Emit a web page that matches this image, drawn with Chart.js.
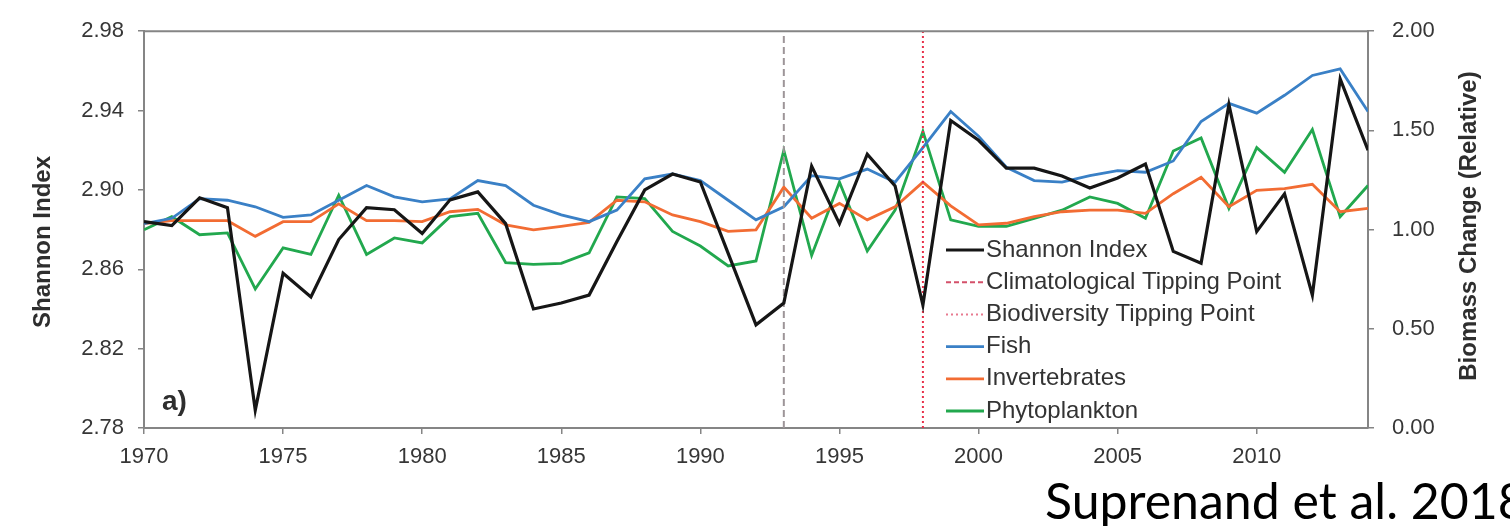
<!DOCTYPE html>
<html>
<head>
<meta charset="utf-8">
<script src="https://cdn.jsdelivr.net/npm/chart.js@4.4.0/dist/chart.umd.min.js"></script>
<style>
  html, body { margin: 0; padding: 0; background: #fff; }
  #wrap { position: relative; width: 1510px; height: 526px; overflow: hidden; }
  #cite {
    position: absolute; left: 1045px; top: 475px;
    font-family: Lato, "Open Sans", "Liberation Sans", sans-serif;
    font-size: 50px; line-height: 50px; color: #000; white-space: nowrap;
  }
</style>
</head>
<body>
<div id="wrap">
  <canvas id="shannonChart"></canvas>
  <div id="cite">Suprenand et al. 2018</div>
</div>
<script>
    // 연도 (x축)
    const years = [1970, 1971, 1972, 1973, 1974, 1975, 1976, 1977, 1978, 1979,
                   1980, 1981, 1982, 1983, 1984, 1985, 1986, 1987, 1988, 1989,
                   1990, 1991, 1992, 1993, 1994, 1995, 1996, 1997, 1998, 1999,
                   2000, 2001, 2002, 2003, 2004, 2005, 2006, 2007, 2008, 2009,
                   2010, 2011, 2012, 2013, 2014];

    // Shannon Index (왼쪽 축)
    const shannon = [2.884, 2.882, 2.896, 2.891, 2.789, 2.858, 2.846, 2.875, 2.891, 2.890,
                     2.878, 2.895, 2.899, 2.883, 2.840, 2.843, 2.847, 2.874, 2.900, 2.908,
                     2.904, 2.868, 2.832, 2.843, 2.912, 2.883, 2.918, 2.902, 2.842, 2.935,
                     2.925, 2.911, 2.911, 2.907, 2.901, 2.906, 2.913, 2.869, 2.863, 2.943,
                     2.879, 2.898, 2.847, 2.956, 2.920];

    // Biomass change (오른쪽 축)
    const fish = [1.030, 1.057, 1.156, 1.148, 1.115, 1.062, 1.074, 1.148, 1.222, 1.165,
                  1.140, 1.155, 1.247, 1.222, 1.123, 1.074, 1.040, 1.098, 1.256, 1.280,
                  1.247, 1.148, 1.049, 1.115, 1.272, 1.256, 1.305, 1.239, 1.413, 1.595,
                  1.471, 1.314, 1.247, 1.239, 1.272, 1.297, 1.289, 1.346, 1.545, 1.636,
                  1.587, 1.677, 1.777, 1.810, 1.595];

    const invertebrates = [1.030, 1.045, 1.045, 1.045, 0.966, 1.040, 1.040, 1.130, 1.045, 1.045,
                           1.040, 1.090, 1.102, 1.024, 0.999, 1.016, 1.036, 1.148, 1.140, 1.074,
                           1.040, 0.991, 0.999, 1.214, 1.057, 1.132, 1.049, 1.115, 1.239, 1.120,
                           1.024, 1.032, 1.065, 1.090, 1.098, 1.098, 1.082, 1.181, 1.264, 1.115,
                           1.198, 1.206, 1.228, 1.090, 1.107];

    const phytoplankton = [0.999, 1.065, 0.974, 0.983, 0.701, 0.908, 0.875, 1.173, 0.875, 0.958,
                           0.933, 1.065, 1.082, 0.834, 0.825, 0.830, 0.883, 1.165, 1.156, 0.991,
                           0.917, 0.817, 0.842, 1.400, 0.870, 1.239, 0.892, 1.098, 1.495, 1.049,
                           1.016, 1.016, 1.057, 1.098, 1.165, 1.132, 1.057, 1.396, 1.462, 1.107,
                           1.413, 1.289, 1.504, 1.065, 1.222];

    // 전환점 (tipping points)
    const climTipYear = 1993;
    const bioTipYear = 1998;

    // 축 눈금
    const leftTicks = [2.78, 2.82, 2.86, 2.90, 2.94, 2.98];
    const rightTicks = [0, 0.5, 1.0, 1.5, 2.0];
    const xTickStep = 5;

    const tickColor = '#363636';
    const axisColor = '#858585';
    const font = "'Liberation Sans', Arial, sans-serif";

    // 범례 + 축 제목 + 상단 테두리를 직접 그림
    const decorPlugin = {
        id: 'decor',
        afterDraw(chart) {
            const ctx = chart.ctx;
            const area = chart.chartArea;
            ctx.save();

            // top border
            ctx.strokeStyle = axisColor;
            ctx.lineWidth = 2;
            ctx.beginPath();
            ctx.moveTo(area.left, area.top);
            ctx.lineTo(area.right, area.top);
            ctx.stroke();

            // axis titles (both read bottom-to-top)
            ctx.fillStyle = '#2e2e2e';
            ctx.font = 'bold 24px ' + font;
            ctx.textAlign = 'center';
            ctx.textBaseline = 'middle';
            ctx.save();
            ctx.translate(43, 242);
            ctx.rotate(-Math.PI / 2);
            ctx.fillText('Shannon Index', 0, 0);
            ctx.restore();
            ctx.save();
            ctx.translate(1469, 226);
            ctx.rotate(-Math.PI / 2);
            ctx.fillText('Biomass Change (Relative)', 0, 0);
            ctx.restore();

            // panel label
            ctx.font = 'bold 28px ' + font;
            ctx.textAlign = 'left';
            ctx.textBaseline = 'alphabetic';
            ctx.fillText('a)', 162, 410);

            // legend
            ctx.font = '24px ' + font;
            ctx.textBaseline = 'middle';
            chart.data.datasets.forEach((ds, i) => {
                const y = 250 + i * 32.2;
                ctx.strokeStyle = ds.legendColor || ds.borderColor;
                ctx.lineWidth = ds.legendWidth || ds.borderWidth;
                ctx.setLineDash(ds.legendDash || ds.borderDash || []);
                ctx.beginPath();
                ctx.moveTo(946, y);
                ctx.lineTo(984, y);
                ctx.stroke();
                ctx.setLineDash([]);
                ctx.fillStyle = '#333';
                ctx.fillText(ds.label, 986, y);
            });
            ctx.restore();
        }
    };

    function createShannonChart() {
        const ctx = document.getElementById('shannonChart').getContext('2d');

        new Chart(ctx, {
            type: 'line',
            data: {
                labels: years,
                datasets: [
                    {
                        label: 'Shannon Index',
                        data: shannon,
                        yAxisID: 'y',
                        borderColor: '#161616',
                        borderWidth: 3.2
                    },
                    {
                        label: 'Climatological Tipping Point',
                        data: [{ x: climTipYear, y: leftTicks[0] }, { x: climTipYear, y: leftTicks[leftTicks.length - 1] }],
                        yAxisID: 'y',
                        borderColor: '#9d9598',
                        borderWidth: 2,
                        borderDash: [7, 4],
                        legendColor: '#d4506a',
                        legendDash: [5, 3]
                    },
                    {
                        label: 'Biodiversity Tipping Point',
                        data: [{ x: bioTipYear, y: leftTicks[0] }, { x: bioTipYear, y: leftTicks[leftTicks.length - 1] }],
                        yAxisID: 'y',
                        borderColor: '#e8304a',
                        borderWidth: 2,
                        borderDash: [2, 3],
                        legendColor: '#e87a90'
                    },
                    {
                        label: 'Fish',
                        data: fish,
                        yAxisID: 'y1',
                        borderColor: '#3a80c6',
                        borderWidth: 2.8
                    },
                    {
                        label: 'Invertebrates',
                        data: invertebrates,
                        yAxisID: 'y1',
                        borderColor: '#f26c33',
                        borderWidth: 2.8
                    },
                    {
                        label: 'Phytoplankton',
                        data: phytoplankton,
                        yAxisID: 'y1',
                        borderColor: '#22a84e',
                        borderWidth: 2.8
                    }
                ]
            },
            options: {
                responsive: true,
                maintainAspectRatio: false,
                animation: false,
                devicePixelRatio: 1,
                layout: { padding: { top: 25, left: 0, right: 0, bottom: 0 } },
                elements: {
                    point: { radius: 0 },
                    line: { tension: 0, fill: false }
                },
                plugins: {
                    legend: { display: false },
                    tooltip: { enabled: false }
                },
                scales: {
                    x: {
                        type: 'linear',
                        position: 'bottom',
                        min: years[0],
                        max: years[years.length - 1],
                        afterBuildTicks: (scale) => {
                            scale.ticks = scale.ticks.filter(t => t.value % xTickStep === 0);
                        },
                        afterFit: (scale) => { scale.height = 98; },
                        ticks: {
                            stepSize: xTickStep,
                            color: tickColor,
                            font: { family: font, size: 22 },
                            padding: 10,
                            maxRotation: 0,
                            autoSkip: false,
                            callback: (v) => String(v)
                        },
                        grid: { drawOnChartArea: false, drawTicks: true, tickLength: 6, color: axisColor, lineWidth: 1.5 },
                        border: { color: axisColor, width: 2 }
                    },
                    y: {
                        type: 'linear',
                        position: 'left',
                        min: leftTicks[0],
                        max: leftTicks[leftTicks.length - 1],
                        afterBuildTicks: (scale) => {
                            scale.ticks = leftTicks.map(v => ({ value: v }));
                        },
                        afterFit: (scale) => { scale.width = 144; },
                        ticks: {
                            color: tickColor,
                            font: { family: font, size: 22 },
                            padding: 14,
                            callback: (v) => Number(v).toFixed(2)
                        },
                        grid: { drawOnChartArea: false, drawTicks: true, tickLength: 6, color: axisColor, lineWidth: 1.5 },
                        border: { color: axisColor, width: 2 }
                    },
                    y1: {
                        type: 'linear',
                        position: 'right',
                        min: rightTicks[0],
                        max: rightTicks[rightTicks.length - 1],
                        afterBuildTicks: (scale) => {
                            scale.ticks = rightTicks.map(v => ({ value: v }));
                        },
                        afterFit: (scale) => { scale.width = 142; },
                        ticks: {
                            color: tickColor,
                            font: { family: font, size: 22 },
                            padding: 18,
                            callback: (v) => Number(v).toFixed(2)
                        },
                        grid: { drawOnChartArea: false, drawTicks: true, tickLength: 6, color: axisColor, lineWidth: 1.5 },
                        border: { color: axisColor, width: 2 }
                    }
                }
            },
            plugins: [decorPlugin]
        });
    }

    createShannonChart();
</script>
</body>
</html>
